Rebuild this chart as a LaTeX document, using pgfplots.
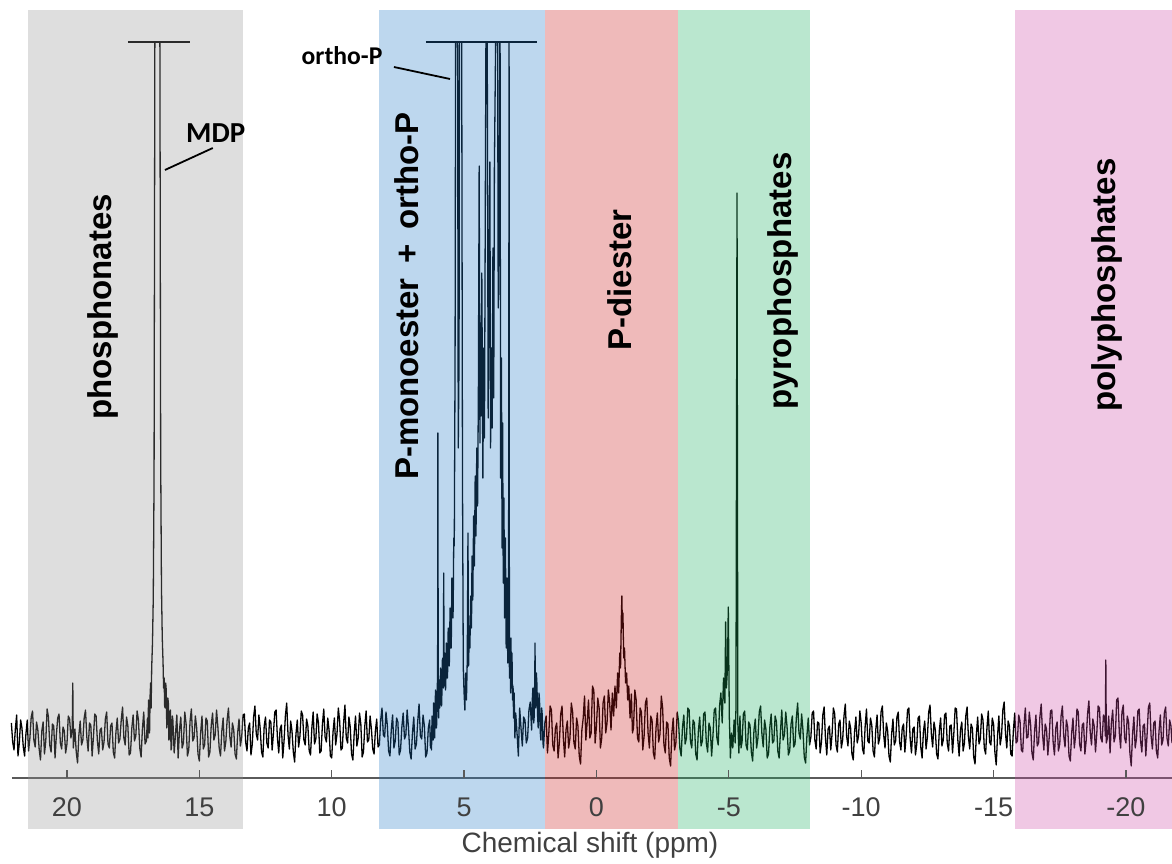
\documentclass[border=0pt]{standalone}
\usepackage{pgfplots}
\pgfplotsset{compat=1.18}
\usepackage{fontspec}
\setmainfont{Liberation Sans}
\newfontfamily\calib{Carlito}
\definecolor{bgray}{RGB}{145,145,145}
\definecolor{bblue}{RGB}{35,122,198}
\definecolor{bred}{RGB}{202,28,28}
\definecolor{bgreen}{RGB}{28,175,95}
\definecolor{bpink}{RGB}{205,72,165}
\definecolor{tickgray}{RGB}{64,64,64}
\definecolor{axgray}{RGB}{90,90,90}
\begin{document}
\begin{tikzpicture}
\begin{axis}[
  scale only axis, width=586pt, height=389pt,
  xmin=-21.74, xmax=22.53, x dir=reverse,
  ymin=0, ymax=778, clip=false,
  axis x line*=bottom, hide y axis,
  x axis line style={draw=none},
  axis on top,
  xtick={20,15,10,5,0,-5,-10,-15,-20},
  xticklabels={20,15,10,5,0,-5,-10,-15,-20},
  tick align=inside, major tick length=4pt,
  major tick style={axgray, line width=0.6pt},
  minor tick num=0,
  xticklabel style={anchor=center, yshift=-14.5pt, font=\fontsize{13.5}{16}\selectfont, text=tickgray},
  xlabel={Chemical shift (ppm)},
  xlabel style={at={(axis description cs:0.5,0)}, anchor=center, yshift=-33.5pt, xshift=2pt, font=\fontsize{14}{17}\selectfont, text=tickgray},
]
% axis line
\addplot[axgray, line width=0.6pt] coordinates {(22.08,0) (-21.74,0)};
% clip lines
\addplot[black, line width=0.55pt] coordinates {(17.70,736) (15.35,736)};
\addplot[black, line width=0.55pt] coordinates {(6.44,736) (2.25,736)};
% spectrum
\addplot[black, line width=0.65pt, line join=round] table {
22.10 55
22.05 36
22.00 28
21.95 49
21.90 63
21.85 22
21.80 35
21.75 58
21.70 50
21.65 31
21.60 22
21.55 44
21.50 58
21.45 27
21.40 40
21.35 61
21.30 67
21.25 38
21.20 31
21.15 56
21.10 48
21.05 29
21.00 18
20.95 47
20.90 56
20.85 24
20.80 37
20.75 69
20.70 61
20.65 33
20.60 26
20.55 54
20.50 52
20.45 20
20.40 43
20.35 60
20.30 64
20.25 35
20.20 29
20.15 51
20.10 47
20.05 25
20.00 34
19.95 62
19.90 59
19.85 40
19.80 50
19.78 95
19.76 30
19.70 49
19.65 26
19.60 15
19.55 43
19.50 57
19.45 33
19.40 38
19.35 60
19.30 68
19.25 41
19.20 27
19.15 55
19.10 53
19.05 22
19.00 41
18.95 64
18.90 62
18.85 37
18.80 24
18.75 48
18.70 50
18.65 28
18.60 36
18.55 59
18.50 66
18.45 34
18.40 30
18.35 52
18.30 55
18.25 26
18.20 20
18.15 46
18.10 60
18.05 35
18.00 39
17.95 58
17.90 71
17.85 40
17.80 33
17.75 61
17.70 52
17.65 23
17.60 25
17.55 50
17.50 63
17.45 37
17.40 42
17.35 67
17.30 58
17.25 30
17.20 21
17.15 49
17.10 66
17.05 34
17.00 37
16.96 60
16.94 40
16.92 78
16.90 52
16.88 45
16.86 82
16.84 95
16.82 70
16.80 110
16.77 135
16.74 180
16.71 300
16.68 736
16.49 736
16.46 320
16.43 190
16.40 140
16.37 115
16.35 90
16.33 100
16.31 72
16.29 70
16.27 95
16.25 88
16.23 50
16.21 55
16.19 80
16.17 75
16.15 38
16.13 40
16.11 66
16.09 68
16.07 28
16.05 30
16.02 62
16.00 58
15.95 25
15.90 44
15.85 63
15.80 20
15.75 48
15.70 61
15.65 30
15.60 35
15.55 66
15.50 54
15.45 22
15.40 28
15.35 57
15.30 69
15.25 37
15.20 40
15.15 62
15.10 50
15.05 24
15.00 17
14.95 45
14.90 62
14.85 29
14.80 33
14.75 60
14.70 57
14.65 21
14.60 26
14.55 53
14.50 65
14.45 38
14.40 43
14.35 68
14.30 51
14.25 30
14.20 22
14.15 47
14.10 60
14.05 27
14.00 36
13.95 58
13.90 70
13.85 42
13.80 31
13.75 55
13.70 48
13.65 24
13.60 19
13.55 46
13.50 59
13.45 32
13.40 41
13.35 63
13.30 64
13.25 36
13.20 27
13.15 50
13.10 55
13.05 23
13.00 34
12.95 61
12.90 72
12.85 44
12.80 38
12.75 63
12.70 49
12.65 26
12.60 21
12.55 52
12.50 61
12.45 35
12.40 30
12.35 58
12.30 56
12.25 28
12.20 45
12.15 66
12.10 68
12.05 40
12.00 25
11.95 49
11.90 53
11.85 20
11.80 37
11.75 62
11.70 75
11.65 43
11.60 29
11.55 57
11.50 47
11.45 26
11.40 16
11.35 44
11.30 58
11.25 31
11.20 42
11.15 67
11.10 63
11.05 38
11.00 33
10.95 59
10.90 52
10.85 27
10.80 23
10.75 50
10.70 66
10.65 34
10.60 39
10.55 64
10.50 55
10.45 25
10.40 27
10.35 54
10.30 69
10.25 41
10.20 36
10.15 60
10.10 48
10.05 22
10.00 20
9.95 46
9.90 60
9.85 33
9.80 44
9.75 70
9.70 57
9.65 28
9.60 30
9.55 55
9.50 73
9.45 40
9.40 35
9.35 61
9.30 51
9.25 24
9.20 18
9.15 45
9.10 62
9.05 32
9.00 40
8.95 65
8.90 54
8.85 21
8.80 26
8.75 52
8.70 67
8.65 36
8.60 38
8.55 62
8.50 49
8.45 29
8.40 24
8.35 47
8.30 59
8.25 31
8.20 33
8.15 58
8.10 70
8.05 43
8.00 41
7.95 66
7.90 53
7.85 27
7.80 22
7.75 48
7.70 63
7.65 30
7.60 37
7.55 60
7.50 56
7.45 23
7.40 28
7.35 51
7.30 65
7.25 39
7.20 43
7.15 68
7.10 50
7.05 26
7.00 19
6.95 45
6.90 61
6.85 29
6.80 34
6.75 57
6.70 74
6.65 42
6.60 39
6.55 63
6.50 52
6.45 21
6.40 25
6.35 50
6.30 58
6.27 30
6.25 45
6.23 28
6.21 62
6.19 44
6.17 38
6.15 75
6.13 72
6.11 40
6.10 55
6.08 88
6.06 82
6.04 50
6.03 64
6.01 95
6.00 92
5.99 345
5.975 75
5.96 60
5.94 98
5.92 70
5.91 76
5.89 110
5.87 104
5.85 72
5.84 82
5.82 118
5.80 120
5.78 90
5.77 205
5.75 92
5.73 125
5.72 115
5.70 88
5.69 96
5.67 135
5.65 128
5.63 100
5.62 108
5.60 150
5.58 142
5.56 112
5.55 122
5.53 170
5.51 162
5.49 130
5.48 142
5.46 200
5.44 192
5.42 160
5.41 172
5.39 240
5.37 232
5.34 420
5.32 736
5.245 736
5.22 330
5.19 420
5.175 736
5.09 736
5.06 300
5.03 110
5.00 85
4.97 68
4.94 105
4.91 78
4.88 118
4.853 245
4.83 112
4.80 152
4.78 130
4.75 182
4.72 150
4.70 222
4.67 178
4.64 262
4.61 212
4.58 302
4.55 242
4.52 330
4.49 272
4.46 385
4.43 612
4.40 335
4.38 455
4.36 362
4.33 505
4.29 300
4.26 430
4.23 340
4.20 560
4.175 736
4.125 736
4.09 360
4.06 490
4.025 616
4.00 330
3.97 430
3.94 350
3.91 530
3.88 380
3.855 610
3.808 736
3.733 736
3.71 470
3.68 560
3.650 736
3.640 736
3.62 300
3.59 420
3.565 230
3.545 355
3.52 195
3.495 280
3.47 160
3.44 240
3.41 130
3.38 200
3.35 115
3.32 170
3.30 736
3.288 100
3.26 115
3.24 85
3.23 140
3.21 95
3.19 125
3.17 78
3.15 92
3.13 60
3.11 85
3.10 72
3.08 40
3.05 65
3.00 45
2.95 22
2.90 70
2.85 50
2.80 32
2.75 61
2.70 58
2.65 35
2.60 40
2.55 68
2.50 76
2.45 48
2.42 80
2.40 90
2.37 55
2.35 62
2.33 100
2.32 135
2.31 85
2.29 70
2.27 105
2.25 95
2.22 60
2.20 50
2.17 85
2.15 78
2.12 45
2.10 38
2.07 70
2.05 64
2.02 35
2.00 30
1.95 55
1.90 62
1.85 25
1.80 44
1.75 72
1.70 68
1.65 33
1.60 27
1.55 50
1.50 55
1.45 20
1.40 36
1.35 64
1.30 72
1.25 40
1.20 21
1.15 48
1.10 57
1.05 30
1.00 40
0.95 75
0.90 66
0.85 35
0.80 29
0.75 60
0.70 52
0.65 22
0.60 14
0.55 48
0.50 60
0.45 82
0.40 38
0.35 56
0.30 78
0.25 40
0.20 45
0.15 92
0.10 88
0.05 35
0.00 52
-0.05 80
-0.10 70
-0.15 30
-0.20 40
-0.25 75
-0.30 82
-0.35 45
-0.40 55
-0.45 88
-0.50 75
-0.55 48
-0.60 85
-0.65 62
-0.70 92
-0.75 70
-0.80 105
-0.84 85
-0.88 125
-0.91 110
-0.94 160
-0.96 182
-0.98 150
-1.00 165
-1.03 120
-1.06 130
-1.10 95
-1.14 105
-1.18 78
-1.22 92
-1.27 60
-1.32 84
-1.36 45
-1.40 50
-1.45 88
-1.50 78
-1.55 40
-1.60 36
-1.65 70
-1.70 66
-1.75 28
-1.80 42
-1.85 75
-1.90 80
-1.95 45
-2.00 30
-2.05 62
-2.10 58
-2.15 25
-2.20 19
-2.25 50
-2.30 65
-2.35 36
-2.40 44
-2.45 82
-2.50 70
-2.55 33
-2.60 25
-2.65 56
-2.70 54
-2.75 20
-2.80 12
-2.85 45
-2.90 60
-2.95 28
-3.00 35
-3.05 66
-3.10 57
-3.15 30
-3.20 22
-3.25 51
-3.30 63
-3.35 34
-3.40 40
-3.45 70
-3.50 68
-3.55 37
-3.60 30
-3.65 58
-3.70 55
-3.75 24
-3.80 18
-3.85 47
-3.90 61
-3.95 32
-4.00 37
-4.05 64
-4.10 66
-4.15 35
-4.20 26
-4.25 55
-4.30 50
-4.35 22
-4.40 42
-4.45 68
-4.50 70
-4.55 40
-4.60 33
-4.65 72
-4.70 85
-4.75 55
-4.80 100
-4.85 75
-4.88 156
-4.91 90
-4.95 110
-4.98 171
-5.02 60
-5.06 20
-5.10 45
-5.15 30
-5.20 58
-5.24 35
-5.27 70
-5.31 585
-5.34 55
-5.38 25
-5.42 62
-5.46 30
-5.50 36
-5.55 64
-5.60 67
-5.65 33
-5.70 28
-5.75 56
-5.80 53
-5.85 26
-5.90 17
-5.95 48
-6.00 59
-6.05 30
-6.10 40
-6.15 66
-6.20 72
-6.25 44
-6.30 31
-6.35 58
-6.40 49
-6.45 20
-6.50 24
-6.55 51
-6.60 64
-6.65 35
-6.70 37
-6.75 62
-6.80 56
-6.85 27
-6.90 20
-6.95 46
-7.00 68
-7.05 38
-7.10 43
-7.15 66
-7.20 51
-7.25 23
-7.30 27
-7.35 54
-7.40 62
-7.45 31
-7.50 34
-7.55 60
-7.60 75
-7.65 45
-7.70 39
-7.75 64
-7.80 48
-7.85 21
-7.90 15
-7.95 42
-8.00 60
-8.05 33
-8.10 41
-8.15 65
-8.20 67
-8.25 38
-8.30 29
-8.35 56
-8.40 55
-8.45 25
-8.50 36
-8.55 63
-8.60 71
-8.65 40
-8.70 23
-8.75 49
-8.80 52
-8.85 28
-8.90 44
-8.95 70
-9.00 64
-9.05 33
-9.10 26
-9.15 54
-9.20 58
-9.25 30
-9.30 38
-9.35 62
-9.40 74
-9.45 42
-9.50 32
-9.55 57
-9.60 50
-9.65 24
-9.70 18
-9.75 46
-9.80 61
-9.85 35
-9.90 42
-9.95 67
-10.00 55
-10.05 29
-10.10 24
-10.15 52
-10.20 69
-10.25 37
-10.30 35
-10.35 60
-10.40 53
-10.45 27
-10.50 21
-10.55 48
-10.60 63
-10.65 34
-10.70 40
-10.75 66
-10.80 72
-10.85 43
-10.90 30
-10.95 55
-11.00 47
-11.05 22
-11.10 16
-11.15 44
-11.20 59
-11.25 33
-11.30 37
-11.35 61
-11.40 66
-11.45 36
-11.50 28
-11.55 50
-11.60 54
-11.65 26
-11.70 43
-11.75 68
-11.80 70
-11.85 39
-11.90 25
-11.95 49
-12.00 51
-12.05 23
-12.10 34
-12.15 60
-12.20 62
-12.25 31
-12.30 20
-12.35 46
-12.40 57
-12.45 29
-12.50 41
-12.55 66
-12.60 73
-12.65 44
-12.70 31
-12.75 56
-12.80 48
-12.85 24
-12.90 19
-12.95 47
-13.00 60
-13.05 32
-13.10 38
-13.15 63
-13.20 65
-13.25 35
-13.30 27
-13.35 52
-13.40 53
-13.45 25
-13.50 45
-13.55 70
-13.60 69
-13.65 38
-13.70 22
-13.75 48
-13.80 56
-13.85 27
-13.90 35
-13.95 62
-14.00 71
-14.05 41
-14.10 29
-14.15 54
-14.20 50
-14.25 21
-14.30 14
-14.35 43
-14.40 61
-14.45 34
-14.50 39
-14.55 64
-14.60 58
-14.65 30
-14.70 24
-14.75 50
-14.80 67
-14.85 36
-14.90 33
-14.95 60
-15.00 54
-15.05 26
-15.10 13
-15.15 42
-15.20 62
-15.25 33
-15.30 42
-15.35 68
-15.40 76
-15.45 45
-15.50 30
-15.55 57
-15.60 52
-15.65 24
-15.70 22
-15.75 48
-15.80 65
-15.85 35
-15.90 37
-15.95 63
-16.00 57
-16.05 28
-16.10 26
-16.15 53
-16.20 70
-16.25 40
-16.30 41
-16.35 66
-16.40 53
-16.45 25
-16.50 18
-16.55 47
-16.60 63
-16.65 32
-16.70 35
-16.75 61
-16.80 74
-16.85 44
-16.90 28
-16.95 54
-17.00 49
-17.05 23
-17.10 40
-17.15 67
-17.20 68
-17.25 36
-17.30 23
-17.35 50
-17.40 56
-17.45 27
-17.50 34
-17.55 62
-17.60 72
-17.65 42
-17.70 31
-17.75 58
-17.80 51
-17.85 22
-17.90 17
-17.95 45
-18.00 60
-18.05 30
-18.10 43
-18.15 69
-18.20 66
-18.25 34
-18.30 27
-18.35 53
-18.40 55
-18.45 24
-18.50 38
-18.55 64
-18.60 77
-18.65 46
-18.70 33
-18.75 59
-18.80 52
-18.85 26
-18.90 45
-18.95 72
-19.00 70
-19.05 40
-19.10 36
-19.15 63
-19.20 60
-19.22 42
-19.24 118
-19.26 35
-19.30 40
-19.35 62
-19.40 25
-19.45 55
-19.50 68
-19.55 36
-19.60 42
-19.65 78
-19.70 80
-19.75 45
-19.80 30
-19.85 66
-19.90 73
-19.95 40
-20.00 35
-20.05 62
-20.10 56
-20.15 25
-20.20 12
-20.25 44
-20.30 61
-20.35 30
-20.40 40
-20.45 67
-20.50 69
-20.55 38
-20.60 26
-20.65 52
-20.70 54
-20.75 22
-20.80 44
-20.85 71
-20.90 75
-20.95 42
-21.00 29
-21.05 55
-21.10 57
-21.15 27
-21.20 20
-21.25 47
-21.30 63
-21.35 33
-21.40 38
-21.45 65
-21.50 71
-21.55 40
-21.60 32
-21.65 58
-21.70 52
-21.74 35
};
% bands
\addplot[draw=none, fill=bgray, fill opacity=0.3] coordinates {(21.47,-51) (21.47,768) (13.35,768) (13.35,-51)} -- cycle;
\addplot[draw=none, fill=bblue, fill opacity=0.3] coordinates {(8.22,-51) (8.22,768) (1.95,768) (1.95,-51)} -- cycle;
\addplot[draw=none, fill=bred, fill opacity=0.3] coordinates {(1.95,-51) (1.95,768) (-3.08,768) (-3.08,-51)} -- cycle;
\addplot[draw=none, fill=bgreen, fill opacity=0.3] coordinates {(-3.08,-51) (-3.08,768) (-8.06,768) (-8.06,-51)} -- cycle;
\addplot[draw=none, fill=bpink, fill opacity=0.3] coordinates {(-15.81,-51) (-15.81,768) (-21.74,768) (-21.74,-51)} -- cycle;
% annotations
\draw[black, line width=0.9pt] (axis cs:16.30,608) -- (axis cs:14.49,630);
\draw[black, line width=0.9pt] (axis cs:7.65,711) -- (axis cs:5.53,699);
\node[font=\calib\bfseries\fontsize{14.5}{17}\selectfont, anchor=center] at (axis cs:14.38,645) {MDP};
\node[font=\calib\bfseries\fontsize{12.8}{15}\selectfont, anchor=center] at (axis cs:9.61,722) {ortho-P};
\begin{scope}[every node/.style={font=\bfseries\fontsize{16.5}{19}\selectfont, rotate=90, anchor=center}]
\node at (axis cs:18.64,471) {phosphonates};
\node at (axis cs:7.16,482) {P-monoester\hspace{0.45em}+\hspace{0.45em}ortho-P};
\node at (axis cs:-0.89,498) {P-diester};
\node at (axis cs:-7.04,497) {pyrophosphates};
\node at (axis cs:-19.28,493) {polyphosphates};
\end{scope}
\end{axis}
\pgfresetboundingbox
\path (0pt,-42.5pt) rectangle (586pt,389pt);
\end{tikzpicture}
\end{document}
